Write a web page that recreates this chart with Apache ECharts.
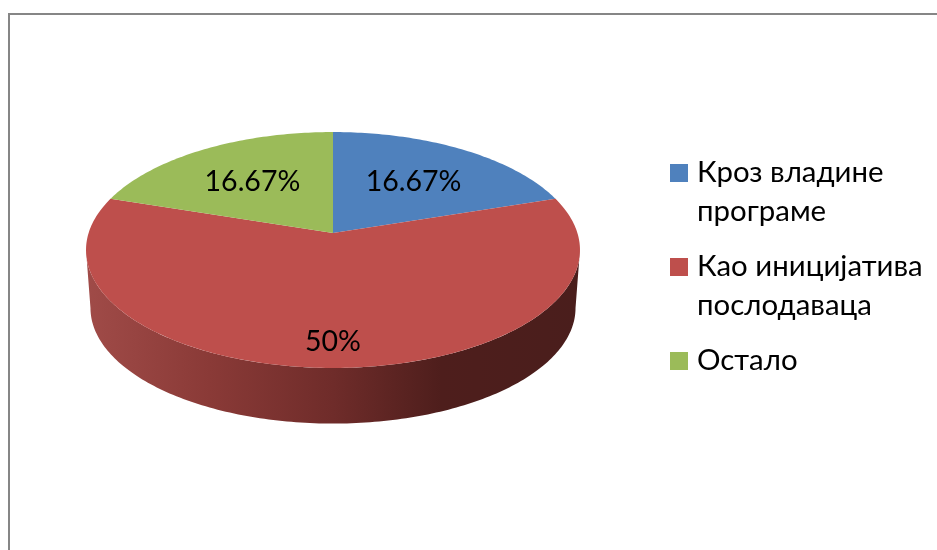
<!DOCTYPE html>
<html>
<head>
<meta charset="utf-8">
<style>
  html, body { margin: 0; padding: 0; background: #fff; }
  #chart { width: 937px; height: 550px; }
</style>
<script src="https://cdn.jsdelivr.net/npm/echarts@6/dist/echarts.min.js"></script>
</head>
<body>
<div id="chart"></div>
<script>
var sliceNames = ['Кроз владине\nпрограме', 'Као иницијатива\nпослодаваца', 'Остало'];
var sliceValues = [16.67, 50, 16.67];
var sliceColors = ['#4F81BD', '#BE4F4C', '#9BBB59'];

var fontName = 'Lato, "Open Sans", "Noto Sans", sans-serif';
var total = sliceValues.reduce(function (a, b) { return a + b; }, 0);

// echarts has no 3d pie without gl, so tilt the disc by hand
var apexX = 333, apexY = 233;
var scaleX = 244.4, scaleY = 115.5, persp = 0.144;

function project(angle, r) {
  var u = Math.sin(angle) * r;
  var v = -Math.cos(angle) * r;
  var w = 1 - persp * v;
  return [apexX + scaleX * u / w, apexY + scaleY * v / w];
}

// lower rim of the wall
function dropRim(p) {
  return [apexX + (p[0] - apexX) * 0.982, 250 + (p[1] - 250) * 0.98 + 58];
}

function arcPoints(from, to) {
  var pts = [];
  var n = Math.max(2, Math.ceil((to - from) * 60));
  for (var i = 0; i <= n; i++) {
    pts.push(project(from + (to - from) * i / n, 1));
  }
  return pts;
}

function renderSlice(params, api) {
  var idx = params.dataIndex;
  var before = 0;
  for (var i = 0; i < idx; i++) before += sliceValues[i];
  var start = before / total * Math.PI * 2;
  var end = (before + api.value(0)) / total * Math.PI * 2;
  var mid = (start + end) / 2;
  var children = [];

  // only the front part of the wall can be seen
  var frontFrom = Math.PI - Math.acos(persp);
  var frontTo = Math.PI + Math.acos(persp);
  var wallFrom = Math.max(start, frontFrom);
  var wallTo = Math.min(end, frontTo);
  if (wallTo > wallFrom) {
    var topRim = arcPoints(wallFrom, wallTo);
    var lowRim = topRim.map(dropRim).reverse();
    children.push({
      type: 'polygon',
      z2: 0,
      shape: { points: topRim.concat(lowRim) },
      style: {
        fill: new echarts.graphic.LinearGradient(0, 0, 1, 0, [
          { offset: 0, color: '#A04B48' },
          { offset: 0.25, color: '#8A3A37' },
          { offset: 0.5, color: '#6F2C2A' },
          { offset: 0.72, color: '#4E1E1C' },
          { offset: 1, color: '#4A1E1C' }
        ])
      }
    });
  }

  children.push({
    type: 'polygon',
    z2: 1,
    shape: { points: [[apexX, apexY]].concat(arcPoints(start, end)) },
    style: { fill: sliceColors[idx] }
  });

  var labelAt = project(mid, api.value(0) / total > 0.5 ? 0.82 : 0.6);
  children.push({
    type: 'text',
    z2: 2,
    x: labelAt[0],
    y: labelAt[1] + 1,
    style: {
      text: api.value(0) + '%',
      font: '28.5px ' + fontName,
      fill: '#000',
      align: 'center',
      verticalAlign: 'middle'
    }
  });

  return { type: 'group', children: children };
}

// legend squares sit on the first line, echarts legend centres them, so build it here
function legendElements() {
  var els = [];
  var y = 153;
  sliceNames.forEach(function (name, i) {
    var lines = name.split('\n').length;
    els.push({
      type: 'rect',
      shape: { x: 670, y: y + 11, width: 18, height: 18 },
      style: { fill: sliceColors[i] }
    });
    els.push({
      type: 'text',
      x: 697,
      y: y,
      style: {
        text: name,
        font: '29.4px ' + fontName,
        lineHeight: 39,
        fill: '#000',
        align: 'left',
        verticalAlign: 'top'
      }
    });
    y += lines * 39 + 16;
  });
  return els;
}

var chart = echarts.init(document.getElementById('chart'), null, { renderer: 'canvas' });
chart.setOption({
  animation: false,
  backgroundColor: '#fff',
  graphic: [{
    type: 'rect',
    silent: true,
    shape: { x: 9, y: 14, width: 1000, height: 1000 },
    style: { fill: 'none', stroke: '#868686', lineWidth: 2 }
  }].concat(legendElements()),
  series: [{
    type: 'custom',
    coordinateSystem: 'none',
    renderItem: renderSlice,
    data: sliceValues.map(function (v, i) {
      return { name: sliceNames[i], value: [v] };
    })
  }]
});
</script>
</body>
</html>
